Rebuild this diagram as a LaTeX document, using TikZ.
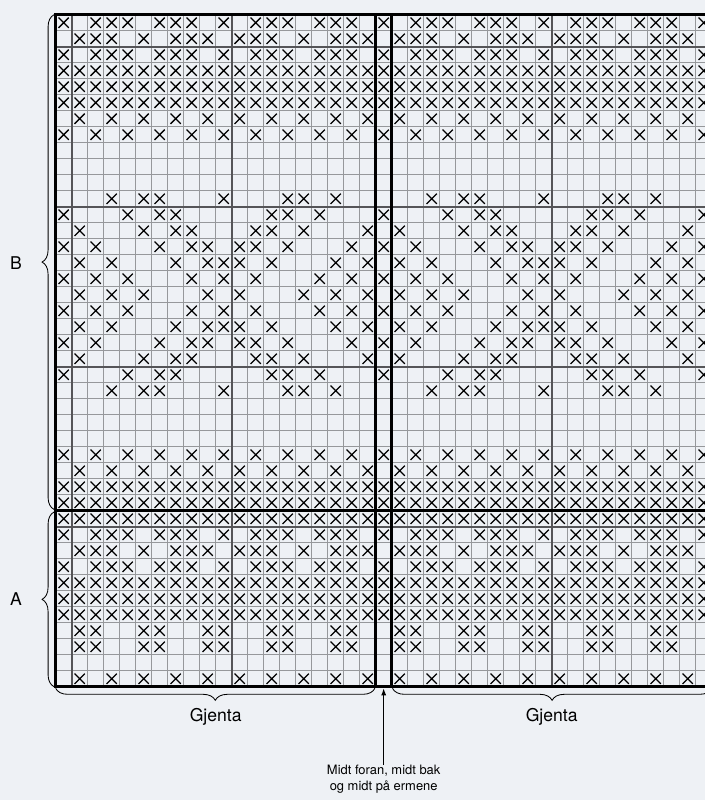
\documentclass[tikz,border=0pt]{standalone}
\usepackage{fontspec}
\setmainfont{TeX Gyre Heros}
\usetikzlibrary{arrows.meta,decorations.pathreplacing,positioning}

\definecolor{paper}{RGB}{238,241,245}
\definecolor{gridgray}{RGB}{150,152,155}
\definecolor{majorgray}{RGB}{85,85,88}

\tikzset{
  cellline/.style={draw=gridgray, line width=1.1pt},
  majorline/.style={draw=majorgray, line width=1.2pt},
  frameline/.style={draw=black, line width=2.5pt},
  stitch/.style={draw=black, line width=0.9pt},
  bracket/.style={decorate, decoration={brace, amplitude=0.3cm}, draw=black, line width=0.6pt},
  lbl/.style={font=\fontsize{12.5}{14}\selectfont, inner sep=0pt},
  note/.style={font=\fontsize{9.2}{11.4}\selectfont, align=center, inner sep=0pt},
}

\begin{document}
\begin{tikzpicture}[x=0.4cm, y=0.4cm]
  \useasboundingbox (-3.48,-7.08) rectangle (40.58,42.92);
  \clip (-3.48,-7.08) rectangle (40.58,42.92);
  \fill[paper] (-3.48,-7.08) rectangle (40.58,42.92);

  % chart grid
  \draw[cellline, step=1] (0,0) grid (41,42);
  \foreach \x in {1,11,31}
    \draw[majorline] (\x,0) -- (\x,42);
  \foreach \y in {10,20,30,40}
    \draw[majorline] (0,\y) -- (41,\y);

  % stitches: row (from top) / repeat width / columns in one repeat
  \foreach \r/\p/\cols in {
      1/10/{0,2,3,4,6,7,8}, 2/10/{1,2,3,5,7,8,9}, 3/10/{0,2,3,4,6,7,8},
      4/1/{0}, 5/1/{0}, 6/1/{0}, 7/2/{1}, 8/2/{0},
      12/20/{3,5,6,10,14,15,17},
      13/20/{0,4,6,7,13,14,16},
      14/20/{1,5,7,8,12,13,15,19},
      15/20/{0,2,6,8,9,11,12,14,18},
      16/20/{1,3,7,9,10,11,13,17,19},
      17/20/{0,2,4,8,10,12,16,18},
      18/20/{1,3,5,9,11,15,17,19},
      19/20/{0,2,4,8,10,12,16,18},
      20/20/{1,3,7,9,10,11,13,17,19},
      21/20/{0,2,6,8,9,11,12,14,18},
      22/20/{1,5,7,8,12,13,15,19},
      23/20/{0,4,6,7,13,14,16},
      24/20/{3,5,6,10,14,15,17},
      28/2/{0}, 29/2/{1}, 30/1/{0}, 31/1/{0},
      32/1/{0},
      33/10/{0,2,3,4,6,7,8}, 34/10/{1,2,3,5,7,8,9}, 35/10/{0,2,3,4,6,7,8},
      36/1/{0}, 37/1/{0}, 38/1/{0},
      39/4/{1,2}, 40/4/{1,2}, 42/2/{1}}{
    \pgfmathtruncatemacro{\n}{40/\p}
    \pgfmathtruncatemacro{\yy}{42-\r}
    \foreach \k in {0,...,\n}{
      \foreach \c in \cols{
        \pgfmathtruncatemacro{\cc}{\c+\k*\p}
        \ifnum\cc<41
          \draw[stitch] (\cc+0.18,\yy+0.18) -- (\cc+0.82,\yy+0.82)
                        (\cc+0.18,\yy+0.82) -- (\cc+0.82,\yy+0.18);
        \fi
      }
    }
  }

  % heavy lines
  \draw[frameline] (41,0) -- (0,0) -- (0,42) -- (41,42);
  \draw[frameline] (20,0) -- (20,42) (21,0) -- (21,42) (0,11) -- (41,11);

  % braces and labels
  \draw[bracket] (-0.1,11.08) -- (-0.1,42);
  \draw[bracket] (-0.1,0) -- (-0.1,10.92);
  \draw[bracket] (19.95,-0.1) -- (0,-0.1);
  \draw[bracket] (41,-0.1) -- (21.05,-0.1);
  \node[lbl] (partB) at (-2.48,26.5) {B};
  \node[lbl] (partA) at (-2.48,5.5) {A};
  \node[lbl] (repeatL) at (10,-1.9) {Gjenta};
  \node[lbl] (repeatR) at (31,-1.9) {Gjenta};

  % centre marker
  \node[note, anchor=north] (centre) at (20.5,-4.9) {Midt foran, midt bak\\og midt på ermene};
  \coordinate (centrecol) at (20.5,-0.1);
  \draw[line width=0.7pt, -{Latex[length=5pt, width=3.6pt]}] (centre) -- (centrecol);
\end{tikzpicture}
\end{document}
